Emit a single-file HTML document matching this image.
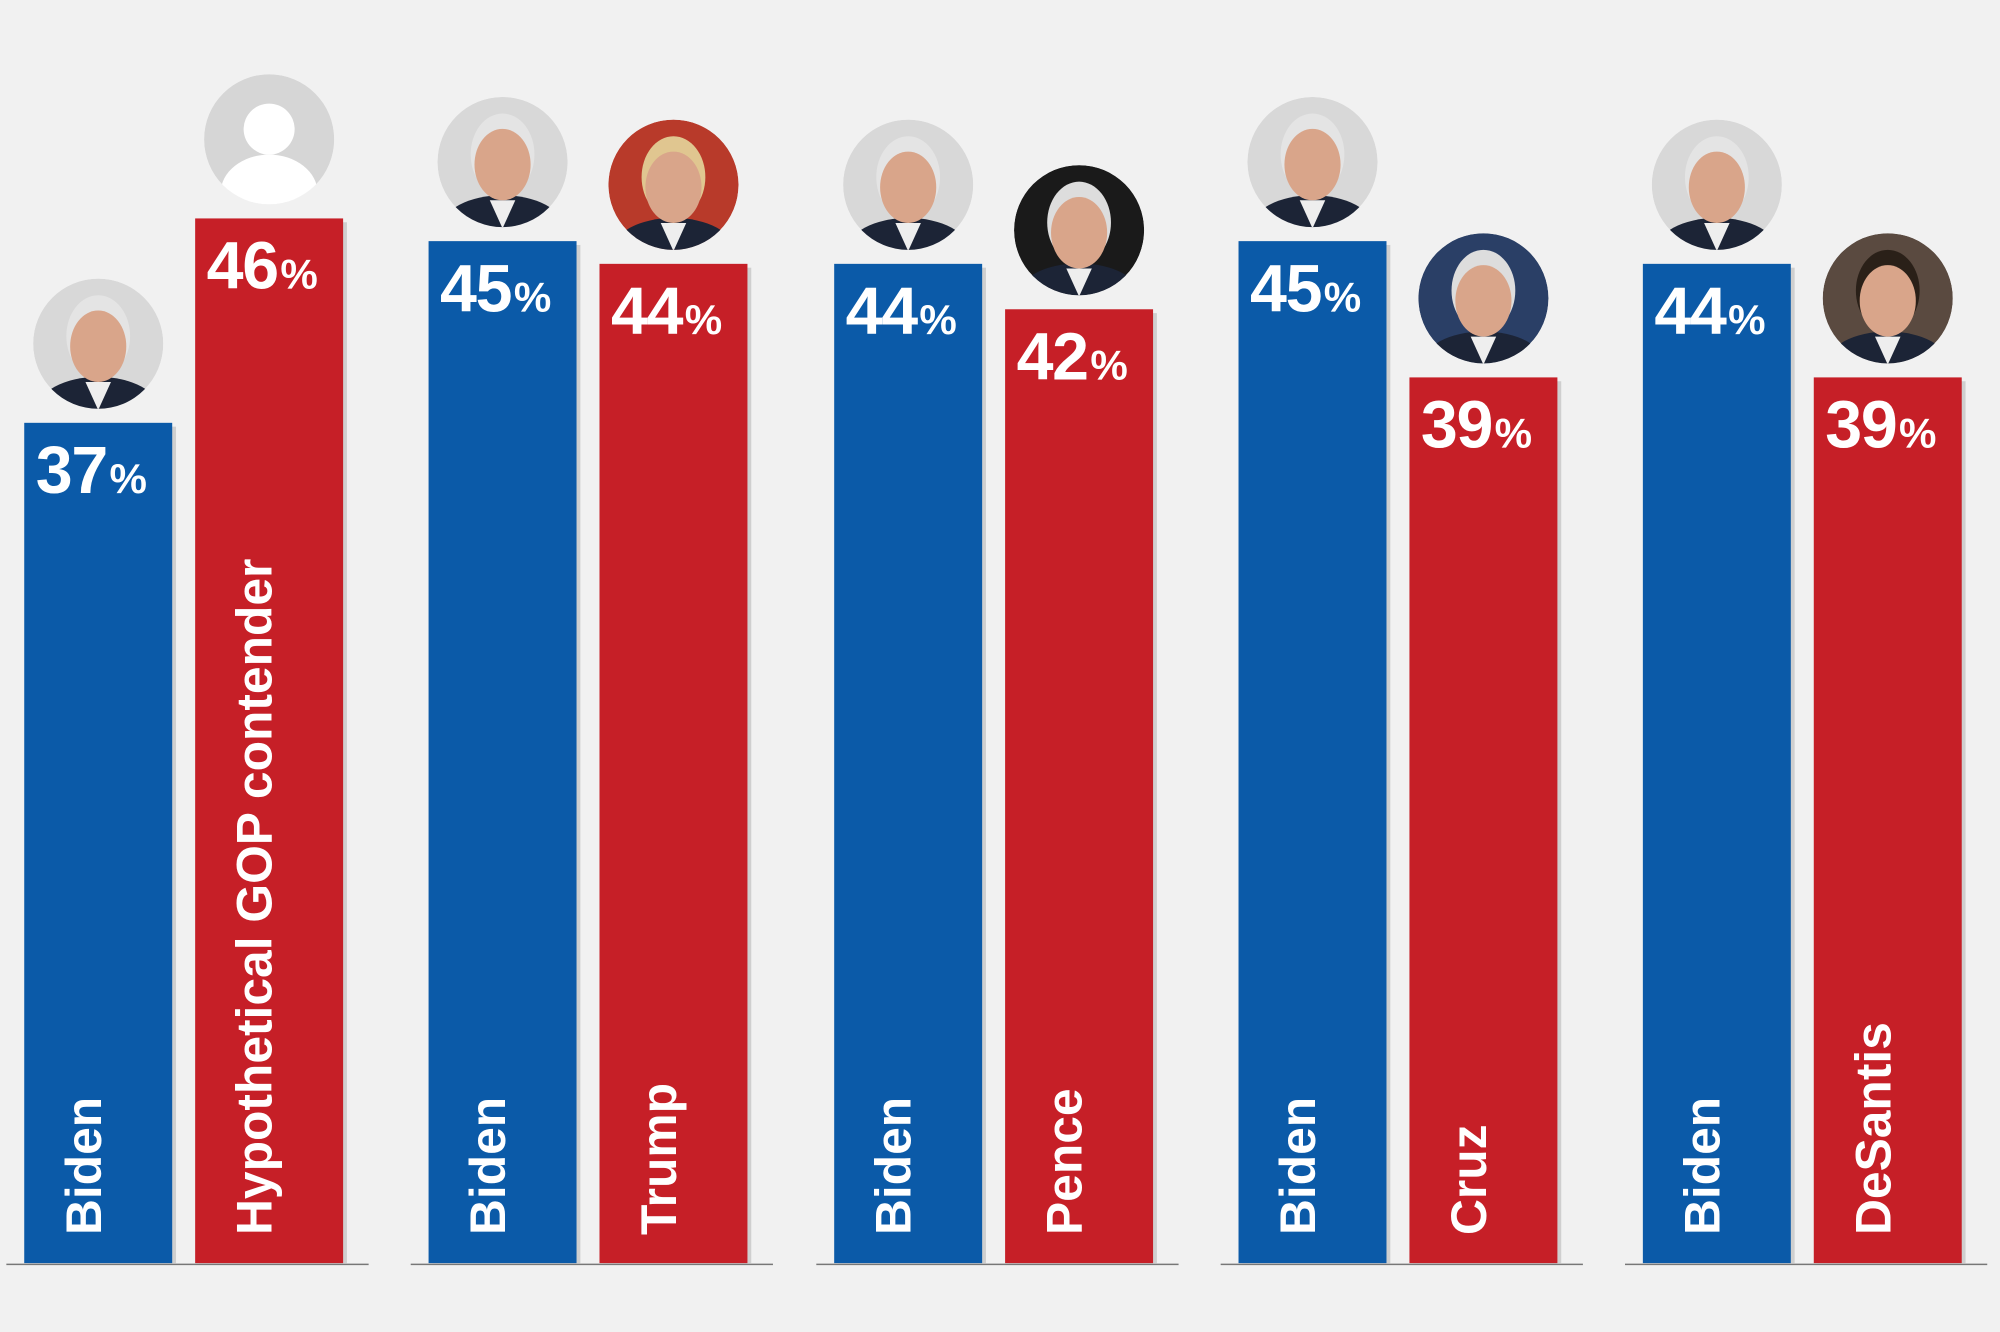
<!DOCTYPE html>
<html><head><meta charset="utf-8"><style>
html,body{margin:0;padding:0;background:#f1f1f1;}
svg{display:block;}
text{font-family:"Liberation Sans",sans-serif;font-weight:bold;fill:#fff;}
</style></head><body>
<svg width="2000" height="1332" viewBox="0 0 1568 1044" preserveAspectRatio="none" id="chart"></svg>
<script>
const candidates = ["Biden","Hypothetical GOP contender","Biden","Trump","Biden","Pence","Biden","Cruz","Biden","DeSantis"];
const values = [37,46,45,44,44,42,45,39,44,39];
const parties = ["D","R","D","R","D","R","D","R","D","R"];
const svg=document.getElementById('chart');
const NS='http://www.w3.org/2000/svg';
const baseY=990, ppt=17.8, barW=116;
const groupX=[19,336,654,971,1288];
const y=v=>baseY-v*ppt;
function mk(t,a,p){const e=document.createElementNS(NS,t);for(const k in a)e.setAttribute(k,a[k]);(p||svg).appendChild(e);return e;}
groupX.forEach((gx,g)=>{
  const l=mk('line',{x1:gx-14,x2:gx+270,y1:baseY+1,y2:baseY+1,stroke:'#777','stroke-width':1.2});
  
  
});
values.forEach((v,i)=>{
  const g=Math.floor(i/2), x=groupX[g]+(i%2)*134, top=y(v);
  const col=parties[i]==='D'?'#0b5aa8':'#c61f27';
  const sh=mk('rect',{x:x+3,y:top+3,width:barW,height:baseY-top-3,fill:'#cfcfcf'});
  
  
  const r=mk('rect',{x:x,y:top,width:barW,height:baseY-top,fill:col});
  
  
  const t=mk('text',{x:x+9,y:top+55,'font-size':52,'letter-spacing':-1});
  t.innerHTML=v+'<tspan font-size="33" dx="2">%</tspan>';
  
  
  const n=mk('text',{x:0,y:0,'font-size':39,transform:`translate(${x+60},968) rotate(-90)`});
  n.textContent=candidates[i];
  
  
  const cx=x+58, cy=top-62;
  const gp=mk('g',{});
  
  
  const cid='c'+i;
  const cp=mk('clipPath',{id:cid},gp); mk('circle',{cx:cx,cy:cy,r:51},cp);
  const inner=mk('g',{'clip-path':`url(#${cid})`},gp);
  if(i===1){
    mk('circle',{cx:cx,cy:cy,r:51,fill:'#d6d6d6'},inner);
    mk('circle',{cx:cx,cy:cy-8,r:20,fill:'#fff'},inner);
    mk('ellipse',{cx:cx,cy:cy+42,rx:38,ry:30,fill:'#fff'},inner);
  } else {
    const bg=i===5?'#1a1a1a':i===7?'#2a3f66':i===9?'#5a4a40':i===3?'#b83a2a':'#d8d8d8';
    mk('circle',{cx:cx,cy:cy,r:51,fill:bg},inner);
    mk('ellipse',{cx:cx,cy:cy+52,rx:48,ry:26,fill:'#1c2436'},inner);
    mk('path',{d:`M${cx-10} ${cy+30} L${cx} ${cy+52} L${cx+10} ${cy+30}Z`,fill:'#eee'},inner);
    const hair=i===3?'#e0c690':(i===5||i===7)?'#ddd':i===9?'#2a2018':'#e4e4e4';
    mk('ellipse',{cx:cx,cy:cy-6,rx:25,ry:32,fill:hair},inner);
    mk('ellipse',{cx:cx,cy:cy+2,rx:22,ry:28,fill:'#d9a58a'},inner);
  }
});
</script>
</body></html>
